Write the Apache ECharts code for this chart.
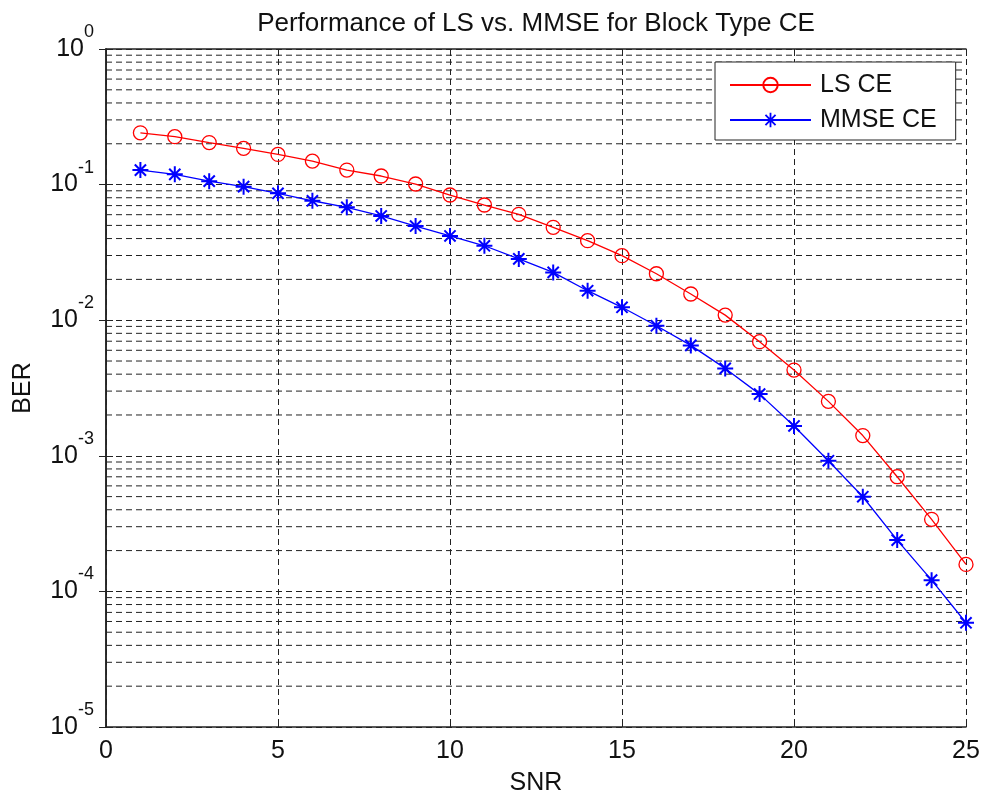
<!DOCTYPE html>
<html>
<head>
<meta charset="utf-8">
<script src="https://cdn.jsdelivr.net/npm/echarts@6/dist/echarts.min.js"></script>
<style>
html,body{margin:0;padding:0;background:#fff;}
#chart{width:984px;height:798px;}
</style>
</head>
<body>
<div id="chart"></div>
<script>
var titleText = 'Performance of LS vs. MMSE for Block Type CE';
var xName = 'SNR';
var yName = 'BER';
var seriesNames = ['LS CE', 'MMSE CE'];
var snr = [1,2,3,4,5,6,7,8,9,10,11,12,13,14,15,16,17,18,19,20,21,22,23,24,25];
var lsBer = [0.241,0.2255,0.204,0.185,0.167,0.149,0.128,0.1157,0.101,0.0838,0.0707,0.0604,0.0484,0.0386,0.0299,0.0220,0.0156,0.0109,0.00694,0.00429,0.00252,0.00141,0.000701,0.00034,0.000158];
var mmseBer = [0.128,0.119,0.106,0.0966,0.0863,0.076,0.068,0.0587,0.0495,0.0418,0.0354,0.0283,0.0225,0.0165,0.01245,0.0091,0.00652,0.00441,0.00285,0.00166,0.00092,0.000499,0.000239,0.000121,0.0000587];
var xRange = [0, 25];
var decadeExponents = [-5,-4,-3,-2,-1,0];
var minorMultipliers = [2,3,4,5,6,7,8,9];

var minorGridValues = [];
for (var i = 0; i < decadeExponents.length - 1; i++) {
  for (var j = 0; j < minorMultipliers.length; j++) {
    minorGridValues.push(minorMultipliers[j] * Math.pow(10, decadeExponents[i]));
  }
}

var starPath = 'path://M8.75,0L11.25,0L11.25,20L8.75,20Z M0,8.75L20,8.75L20,11.25L0,11.25Z M3.9,2.1L17.9,16.1L16.1,17.9L2.1,3.9Z M16.1,2.1L17.9,3.9L3.9,17.9L2.1,16.1Z';

var dash = [6,4];
var font = 'Arial, "Liberation Sans", Helvetica, sans-serif';

function pairs(xs, ys){ return xs.map(function(x,i){ return [x, ys[i]]; }); }

var chart = echarts.init(document.getElementById('chart'), null, {renderer:'canvas'});
chart.setOption({
  animation: false,
  backgroundColor: '#fff',
  textStyle: {fontFamily: font},
  title: {
    text: titleText,
    left: 531, top: 6,
    textAlign: 'center',
    textStyle: {fontSize: 26, fontWeight: 'normal', color: '#111', fontFamily: font}
  },
  legend: {
    orient: 'vertical',
    left: 715, top: 62,
    padding: [9, 19, 6, 14],
    itemWidth: 81, itemHeight: 18, itemGap: 7,
    backgroundColor: '#fff',
    borderColor: '#222', borderWidth: 1,
    textStyle: {fontSize: 25, color: '#111', lineHeight: 28, padding: [0,0,0,4], fontFamily: font},
    data: seriesNames
  },
  grid: {left: 106, right: 18, top: 49, bottom: 71, containLabel: false, outerBoundsMode: 'none'},
  xAxis: [{
    type: 'value', min: xRange[0], max: xRange[1], interval: 5,
    name: xName, nameLocation: 'middle', nameGap: 44,
    nameTextStyle: {fontSize: 25, color: '#111', fontFamily: font},
    axisLine: {show: true, lineStyle: {color: '#222', width: 1.5}},
    axisTick: {show: true, inside: true, length: 7, lineStyle: {color: '#222'}},
    axisLabel: {fontSize: 25, color: '#111', margin: 12, fontFamily: font},
    splitLine: {show: true, lineStyle: {color: '#222', type: dash, width: 1}}
  }, {
    type: 'value', min: xRange[0], max: xRange[1], interval: 5, position: 'top',
    axisLine: {show: true, lineStyle: {color: '#222', width: 1.5}},
    axisTick: {show: true, inside: true, length: 7, lineStyle: {color: '#222'}},
    axisLabel: {show: false},
    splitLine: {show: false}
  }],
  yAxis: [{
    type: 'log', logBase: 10, min: 1e-5, max: 1,
    name: yName, nameLocation: 'middle', nameGap: 70, nameRotate: 90,
    nameTextStyle: {fontSize: 25, color: '#111', fontFamily: font},
    axisLine: {show: true, lineStyle: {color: '#222', width: 1.5}},
    axisTick: {show: true, inside: true, length: 7, lineStyle: {color: '#222'}},
    axisLabel: {
      margin: 12, color: '#111',
      formatter: function(v){
        var e = Math.round(Math.log(v)/Math.LN10);
        return '{b|10}{s|' + e + '}';
      },
      rich: {
        b: {fontSize: 25, lineHeight: 26, color: '#111', fontFamily: font},
        s: {fontSize: 18, lineHeight: 18, padding: [0,0,34,0], color: '#111', fontFamily: font}
      }
    },
    splitLine: {show: true, lineStyle: {color: '#222', type: dash, width: 1}}
  }, {
    type: 'log', logBase: 10, min: 1e-5, max: 1, position: 'right',
    axisLine: {show: true, lineStyle: {color: '#222', width: 1.5}},
    axisTick: {show: true, inside: true, length: 7, lineStyle: {color: '#222'}},
    axisLabel: {show: false},
    splitLine: {show: false}
  }],
  series: [{
    name: 'minor-grid',
    type: 'custom',
    silent: true,
    z: 1,
    data: minorGridValues,
    renderItem: function(params, api){
      var v = api.value(0);
      var p1 = api.coord([xRange[0], v]);
      var p2 = api.coord([xRange[1], v]);
      return {
        type: 'line',
        shape: {x1: p1[0], y1: p1[1], x2: p2[0], y2: p2[1]},
        style: {stroke: '#222', lineWidth: 1, lineDash: dash, fill: null}
      };
    },
    encode: {y: 0}
  }, {
    name: seriesNames[0],
    type: 'line',
    data: pairs(snr, lsBer),
    symbol: 'circle', symbolSize: 14,
    lineStyle: {color: '#ff0000', width: 1.3},
    itemStyle: {color: 'rgba(255,255,255,0)', borderColor: '#ff0000', borderWidth: 1.3},
    emphasis: {disabled: true},
    z: 5
  }, {
    name: seriesNames[1],
    type: 'line',
    data: pairs(snr, mmseBer),
    symbol: starPath, symbolSize: 16,
    lineStyle: {color: '#0000ff', width: 1.3},
    itemStyle: {color: '#0000ff'},
    emphasis: {disabled: true},
    z: 5
  }]
});
</script>
</body>
</html>
